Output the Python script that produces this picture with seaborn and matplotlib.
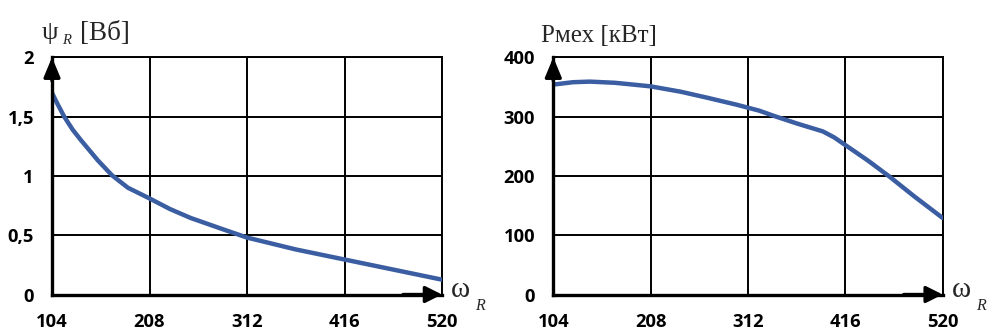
import matplotlib
matplotlib.use("Agg")
import matplotlib.pyplot as plt
import seaborn as sns
import pandas as pd

# ---- data ----
omega_ticks = [104, 208, 312, 416, 520]
omega_psi = [104, 109, 117, 126, 135, 153, 168, 185, 208, 230, 252, 287, 312, 364, 416, 468, 520]
psi_R = [1.70, 1.62, 1.50, 1.39, 1.30, 1.13, 1.005, 0.90, 0.81, 0.72, 0.645, 0.548, 0.48, 0.38, 0.295, 0.21, 0.125]
omega_p = [104, 125, 143, 170, 208, 240, 268, 300, 324, 340, 365, 392, 404, 416, 440, 463, 490, 520]
p_mech = [354, 358, 359, 357, 351, 342, 332, 320, 310, 301, 288, 275, 265, 252, 226, 199, 165, 129]
psi_ticks = [0, 0.5, 1, 1.5, 2]
psi_ticklabels = ["0", "0,5", "1", "1,5", "2"]
p_ticks = [0, 100, 200, 300, 400]
p_ticklabels = ["0", "100", "200", "300", "400"]

df_psi = pd.DataFrame({"omega": omega_psi, "psi": psi_R})
df_p = pd.DataFrame({"omega": omega_p, "p": p_mech})

sns.set_style("white")
W, H = 993, 335
fig = plt.figure(figsize=(W / 100, H / 100), dpi=100)

def fx(x):
    return x / W

def fy(y):
    return 1 - y / H

ax1 = fig.add_axes([fx(52), fy(294.5), (442 - 52) / W, (294.5 - 57.3) / H])
ax2 = fig.add_axes([fx(553.3), fy(294.5), (942.7 - 553.3) / W, (294.5 - 57.3) / H])

line_color = "#3B5DA2"
sns.lineplot(data=df_psi, x="omega", y="psi", ax=ax1, color=line_color, lw=3.2, zorder=5)
sns.lineplot(data=df_p, x="omega", y="p", ax=ax2, color=line_color, lw=3.2, zorder=5)

tick_font = dict(family="Open Sans", weight="bold", size=13.2)

for ax, yt, ytl, ylim in [(ax1, psi_ticks, psi_ticklabels, (0, 2)),
                          (ax2, p_ticks, p_ticklabels, (0, 400))]:
    ax.set_xlim(104, 520)
    ax.set_ylim(*ylim)
    ax.set_xticks(omega_ticks)
    ax.set_xticklabels([str(t) for t in omega_ticks], fontdict=tick_font)
    ax.set_yticks(yt)
    ax.set_yticklabels(ytl, fontdict=tick_font)
    ax.set_xlabel("")
    ax.set_ylabel("")
    ax.grid(True, color="black", lw=1.4)
    ax.set_axisbelow(True)
    for s in ["top", "right"]:
        ax.spines[s].set_color("black")
        ax.spines[s].set_linewidth(1.4)
    for s in ["left", "bottom"]:
        ax.spines[s].set_color("black")
        ax.spines[s].set_linewidth(2.4)
        ax.spines[s].set_zorder(6)
    ax.tick_params(axis="x", direction="out", length=5, width=1.5, pad=8, colors="black")
    ax.tick_params(axis="y", length=0, pad=13, colors="black")
    # arrow heads on the axes
    ax.annotate("", xy=(0, 1), xytext=(0, 0.9), xycoords="axes fraction",
                arrowprops=dict(arrowstyle="-|>,head_length=0.6,head_width=0.25",
                                mutation_scale=20, lw=2.4, color="black",
                                shrinkA=0, shrinkB=0), zorder=7, annotation_clip=False)
    ax.annotate("", xy=(1, 0), xytext=(0.9, 0), xycoords="axes fraction",
                arrowprops=dict(arrowstyle="-|>,head_length=0.5,head_width=0.25",
                                mutation_scale=20, lw=2.4, color="black",
                                shrinkA=0, shrinkB=0), zorder=7, annotation_clip=False)

serif = "Liberation Serif"
# left title: psi_R [Вб]
fig.text(fx(42), fy(33), "ψ", family=serif, size=19, va="center", ha="left")
fig.text(fx(62), fy(41), "R", family=serif, style="italic", size=10.5, va="center", ha="left")
fig.text(fx(80), fy(34), "[Вб]", family=serif, size=19.5, va="center", ha="left")
# right title
fig.text(fx(541), fy(36), "Рмех [кВт]", family=serif, size=18, va="center", ha="left")
# omega_R axis labels
for x0 in (451, 952):
    fig.text(fx(x0), fy(290), "ω", family=serif, size=21, va="center", ha="left")
    fig.text(fx(x0 + 24), fy(306), "R", family=serif, style="italic", size=11.5, va="center", ha="left")

fig.savefig("out.png", dpi=100)
